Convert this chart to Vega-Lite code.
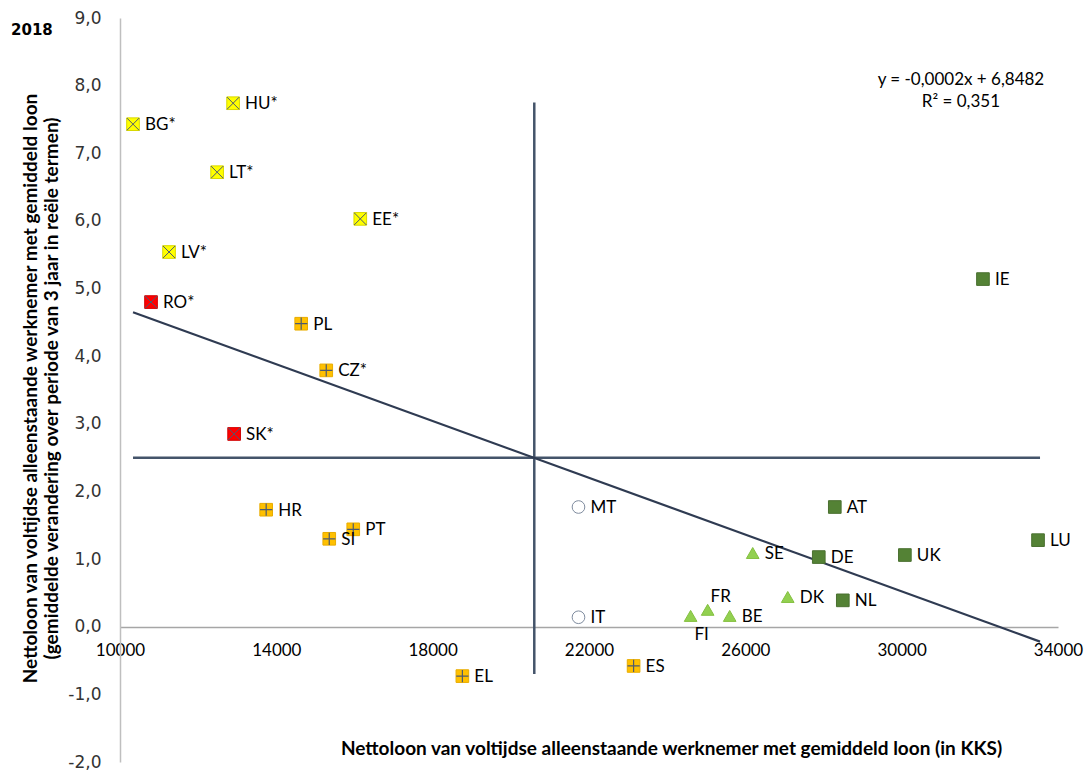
{
  "$schema": "https://vega.github.io/schema/vega-lite/v6.json",
  "width": 938,
  "height": 744,
  "autosize": {"type": "none"},
  "padding": {"left": 120, "top": 18, "right": 28, "bottom": 9},
  "background": "white",
  "config": {"view": {"stroke": null}, "font": "Lato"},
  "datasets": {
    "countries": [
      {"country": "BG", "label": "BG*", "loon": 10333, "verandering": 7.43, "groep": "yx"},
      {"country": "HU", "label": "HU*", "loon": 12894, "verandering": 7.74, "groep": "yx"},
      {"country": "LT", "label": "LT*", "loon": 12485, "verandering": 6.72, "groep": "yx"},
      {"country": "EE", "label": "EE*", "loon": 16148, "verandering": 6.03, "groep": "yx"},
      {"country": "LV", "label": "LV*", "loon": 11255, "verandering": 5.54, "groep": "yx"},
      {"country": "RO", "label": "RO*", "loon": 10794, "verandering": 4.80, "groep": "rx"},
      {"country": "SK", "label": "SK*", "loon": 12920, "verandering": 2.85, "groep": "rx"},
      {"country": "PL", "label": "PL", "loon": 14636, "verandering": 4.48, "groep": "op"},
      {"country": "CZ", "label": "CZ*", "loon": 15277, "verandering": 3.79, "groep": "op"},
      {"country": "HR", "label": "HR", "loon": 13740, "verandering": 1.73, "groep": "op"},
      {"country": "SI", "label": "SI", "loon": 15354, "verandering": 1.30, "groep": "op"},
      {"country": "PT", "label": "PT", "loon": 15968, "verandering": 1.44, "groep": "op"},
      {"country": "EL", "label": "EL", "loon": 18760, "verandering": -0.73, "groep": "op"},
      {"country": "ES", "label": "ES", "loon": 23141, "verandering": -0.58, "groep": "op"},
      {"country": "MT", "label": "MT", "loon": 21731, "verandering": 1.77, "groep": "wc"},
      {"country": "IT", "label": "IT", "loon": 21731, "verandering": 0.14, "groep": "wc"},
      {"country": "SE", "label": "SE", "loon": 26189, "verandering": 1.09, "groep": "lg"},
      {"country": "FR", "label": "FR", "loon": 25036, "verandering": 0.25, "groep": "lg"},
      {"country": "FI", "label": "FI", "loon": 24600, "verandering": 0.16, "groep": "lg"},
      {"country": "BE", "label": "BE", "loon": 25600, "verandering": 0.16, "groep": "lg"},
      {"country": "DK", "label": "DK", "loon": 27085, "verandering": 0.44, "groep": "lg"},
      {"country": "DE", "label": "DE", "loon": 27879, "verandering": 1.03, "groep": "dg"},
      {"country": "AT", "label": "AT", "loon": 28289, "verandering": 1.77, "groep": "dg"},
      {"country": "NL", "label": "NL", "loon": 28494, "verandering": 0.39, "groep": "dg"},
      {"country": "IE", "label": "IE", "loon": 32080, "verandering": 5.14, "groep": "dg"},
      {"country": "UK", "label": "UK", "loon": 30082, "verandering": 1.06, "groep": "dg"},
      {"country": "LU", "label": "LU", "loon": 33489, "verandering": 1.28, "groep": "dg"}
    ]
  },
  "layer": [
    {
      "data": {"values": [{"x": 20600, "y": -0.7, "y2": 7.75}]},
      "mark": {"type": "rule", "color": "#44546A", "strokeWidth": 2.5},
      "encoding": {
        "x": {"field": "x", "type": "quantitative", "scale": {"domain": [10000, 34000], "nice": false, "zero": false},
          "axis": {
            "orient": "bottom", "offset": -135, "values": [10000, 14000, 18000, 22000, 26000, 30000, 34000],
            "format": "d", "grid": false, "ticks": false, "domainColor": "#A6A6A6", "domainWidth": 1.5,
            "labelFont": "Lato", "labelFontSize": 17, "labelColor": "#000000", "labelPadding": 15,
            "labelFlush": false, "labelOverlap": false,
            "title": "Nettoloon van voltijdse alleenstaande werknemer met  gemiddeld loon (in KKS)",
            "titleFont": "Lato", "titleFontSize": 19, "titleFontWeight": "bold", "titleColor": "#000000",
            "titleX": 551, "titleY": 121, "titleAlign": "center", "titleBaseline": "middle", "titleAnchor": null
          }},
        "y": {"field": "y", "type": "quantitative", "scale": {"domain": [-2, 9], "nice": false, "zero": false},
          "axis": {
            "orient": "left", "values": [-2, -1, 0, 1, 2, 3, 4, 5, 6, 7, 8, 9],
            "labelExpr": "datum.value + ',0'",
            "grid": false, "ticks": false, "domainColor": "#BFBFBF", "domainWidth": 1.5,
            "labelFont": "DejaVu Sans", "labelFontSize": 17, "labelColor": "#333333", "labelPadding": 19,
            "labelOverlap": false, "labelFlush": false,
            "title": ["Nettoloon van voltijdse alleenstaande werknemer met  gemiddeld loon", "(gemiddelde verandering over  periode van 3 jaar in reële termen)"],
            "titleFont": "Lato", "titleFontSize": 19, "titleFontWeight": "bold", "titleColor": "#000000",
            "titleAngle": -90, "titleX": -90, "titleY": 370, "titleAlign": "center", "titleBaseline": "middle",
            "titleLineHeight": 21, "titleAnchor": null
          }},
        "y2": {"field": "y2"}
      }
    },
    {
      "data": {"values": [{"x": 10333, "x2": 33540, "y": 2.5}]},
      "mark": {"type": "rule", "color": "#44546A", "strokeWidth": 2.5},
      "encoding": {
        "x": {"field": "x", "type": "quantitative", "scale": {"domain": [10000, 34000], "nice": false, "zero": false}},
        "x2": {"field": "x2"},
        "y": {"field": "y", "type": "quantitative", "scale": {"domain": [-2, 9], "nice": false, "zero": false}}
      }
    },
    {
      "data": {"values": [{"x": 10333, "y": 4.65, "x2": 33540, "y2": -0.22}]},
      "mark": {"type": "rule", "color": "#2F3B52", "strokeWidth": 2.2},
      "encoding": {
        "x": {"field": "x", "type": "quantitative", "scale": {"domain": [10000, 34000], "nice": false, "zero": false}},
        "x2": {"field": "x2"},
        "y": {"field": "y", "type": "quantitative", "scale": {"domain": [-2, 9], "nice": false, "zero": false}},
        "y2": {"field": "y2"}
      }
    },
    {
      "data": {"name": "countries"},
      "mark": {"type": "point", "filled": true, "size": 160, "opacity": 1, "strokeWidth": 1},
      "encoding": {
        "x": {"field": "loon", "type": "quantitative", "scale": {"domain": [10000, 34000], "nice": false, "zero": false}},
        "y": {"field": "verandering", "type": "quantitative", "scale": {"domain": [-2, 9], "nice": false, "zero": false}},
        "shape": {"field": "groep", "type": "nominal", "legend": null,
          "scale": {"domain": ["yx", "rx", "op", "dg", "lg", "wc"], "range": ["square", "square", "square", "square", "triangle-up", "circle"]}},
        "fill": {"field": "groep", "type": "nominal", "legend": null,
          "scale": {"domain": ["yx", "rx", "op", "dg", "lg", "wc"], "range": ["#FFFF00", "#FF0000", "#FFC000", "#548235", "#92D050", "#FFFFFF"]}},
        "stroke": {"field": "groep", "type": "nominal", "legend": null,
          "scale": {"domain": ["yx", "rx", "op", "dg", "lg", "wc"], "range": ["#D8D800", "#D00000", "#E8AC00", "#4A7030", "#84C040", "#7F8C9F"]}}
      }
    },
    {
      "data": {"name": "countries"},
      "transform": [{"filter": "datum.groep === 'yx' || datum.groep === 'rx'"}],
      "mark": {"type": "point", "shape": "M-1,-1L1,1M-1,1L1,-1", "filled": false, "size": 150, "color": "#4D5A70", "strokeWidth": 1, "opacity": 1},
      "encoding": {
        "x": {"field": "loon", "type": "quantitative", "scale": {"domain": [10000, 34000], "nice": false, "zero": false}},
        "y": {"field": "verandering", "type": "quantitative", "scale": {"domain": [-2, 9], "nice": false, "zero": false}}
      }
    },
    {
      "data": {"name": "countries"},
      "transform": [{"filter": "datum.groep === 'op'"}],
      "mark": {"type": "point", "shape": "M0,-1L0,1M-1,0L1,0", "filled": false, "size": 150, "color": "#4D5A70", "strokeWidth": 1.2, "opacity": 1},
      "encoding": {
        "x": {"field": "loon", "type": "quantitative", "scale": {"domain": [10000, 34000], "nice": false, "zero": false}},
        "y": {"field": "verandering", "type": "quantitative", "scale": {"domain": [-2, 9], "nice": false, "zero": false}}
      }
    },
    {
      "data": {"name": "countries"},
      "transform": [{"filter": "datum.country !== 'FR' && datum.country !== 'FI'"}],
      "mark": {"type": "text", "align": "left", "baseline": "middle", "dx": 12, "dy": 1, "font": "Lato", "fontSize": 17, "color": "#000000"},
      "encoding": {
        "x": {"field": "loon", "type": "quantitative", "scale": {"domain": [10000, 34000], "nice": false, "zero": false}},
        "y": {"field": "verandering", "type": "quantitative", "scale": {"domain": [-2, 9], "nice": false, "zero": false}},
        "text": {"field": "label"}
      }
    },
    {
      "data": {"name": "countries"},
      "transform": [{"filter": "datum.country === 'FR'"}],
      "mark": {"type": "text", "align": "center", "baseline": "middle", "dx": 13, "dy": -13, "font": "Lato", "fontSize": 17, "color": "#000000"},
      "encoding": {
        "x": {"field": "loon", "type": "quantitative", "scale": {"domain": [10000, 34000], "nice": false, "zero": false}},
        "y": {"field": "verandering", "type": "quantitative", "scale": {"domain": [-2, 9], "nice": false, "zero": false}},
        "text": {"field": "label"}
      }
    },
    {
      "data": {"name": "countries"},
      "transform": [{"filter": "datum.country === 'FI'"}],
      "mark": {"type": "text", "align": "center", "baseline": "middle", "dx": 11, "dy": 19, "font": "Lato", "fontSize": 17, "color": "#000000"},
      "encoding": {
        "x": {"field": "loon", "type": "quantitative", "scale": {"domain": [10000, 34000], "nice": false, "zero": false}},
        "y": {"field": "verandering", "type": "quantitative", "scale": {"domain": [-2, 9], "nice": false, "zero": false}},
        "text": {"field": "label"}
      }
    },
    {
      "data": {"values": [{"x": 31516, "y": 8.08, "t": "y = -0,0002x + 6,8482"}, {"x": 31516, "y": 7.76, "t": "R² = 0,351"}]},
      "mark": {"type": "text", "align": "center", "baseline": "middle", "font": "Lato", "fontSize": 17, "color": "#000000"},
      "encoding": {
        "x": {"field": "x", "type": "quantitative", "scale": {"domain": [10000, 34000], "nice": false, "zero": false}},
        "y": {"field": "y", "type": "quantitative", "scale": {"domain": [-2, 9], "nice": false, "zero": false}},
        "text": {"field": "t"}
      }
    },
    {
      "data": {"values": [{"x": 7746, "y": 8.82, "t": "2018"}]},
      "mark": {"type": "text", "align": "center", "baseline": "middle", "font": "DejaVu Sans", "fontSize": 15, "fontWeight": "bold", "color": "#000000"},
      "encoding": {
        "x": {"field": "x", "type": "quantitative", "scale": {"domain": [10000, 34000], "nice": false, "zero": false}},
        "y": {"field": "y", "type": "quantitative", "scale": {"domain": [-2, 9], "nice": false, "zero": false}},
        "text": {"field": "t"}
      }
    }
  ]
}
